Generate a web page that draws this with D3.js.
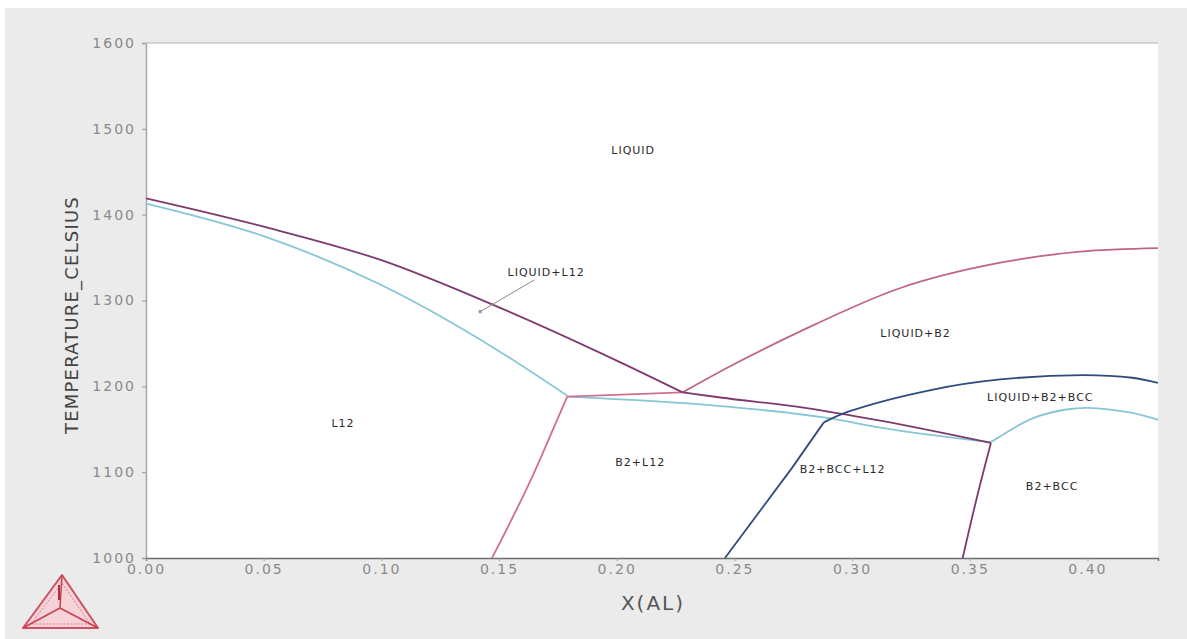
<!DOCTYPE html>
<html>
<head>
<meta charset="utf-8">
<script src="https://cdn.jsdelivr.net/npm/d3@7"></script>
<style>
  html, body { margin: 0; padding: 0; background: #ffffff; }
  svg { display: block; }
</style>
</head>
<body>
<svg id="chart" width="1187" height="639"></svg>
<script>
// ---- data (X(AL) mole fraction, temperature in Celsius) ----
const xTicks = [0.00, 0.05, 0.10, 0.15, 0.20, 0.25, 0.30, 0.35, 0.40];
const yTicks = [1000, 1100, 1200, 1300, 1400, 1500, 1600];

const liquidusL12 = [[0, 1419], [0.05, 1386], [0.1, 1347], [0.15, 1292], [0.2, 1230], [0.228, 1193]];
const solidusL12 = [[0, 1413], [0.05, 1375], [0.1, 1318], [0.15, 1241], [0.179, 1189]];
const solvusL12 = [[0.147, 1000], [0.164, 1094], [0.1747, 1161], [0.179, 1188]];
const peritectic = [[0.179, 1188], [0.228, 1193]];
const upperB2L12 = [[0.179, 1188], [0.244, 1177], [0.29, 1163], [0.312, 1152], [0.359, 1135]];
const liquidB2Lower = [[0.228, 1193], [0.244, 1187], [0.28, 1175], [0.312, 1160], [0.359, 1134]];
const liquidusB2 = [[0.228, 1193], [0.25, 1226], [0.278, 1264], [0.32, 1314], [0.363, 1344], [0.397, 1357], [0.43, 1361]];
const solvusB2Right = [[0.347, 1000], [0.353, 1070], [0.359, 1134]];
const bccBoundaryLow = [[0.246, 1000], [0.2745, 1105], [0.288, 1158]];
const bccBoundaryHigh = [[0.288, 1158], [0.299, 1171], [0.334, 1196], [0.363, 1208], [0.398, 1213], [0.419, 1210], [0.43, 1204]];
const bccLower = [[0.359, 1135], [0.377, 1163], [0.391, 1173], [0.4, 1175], [0.419, 1169], [0.43, 1161]];

const regionNames = ["LIQUID", "LIQUID+L12", "L12", "B2+L12", "LIQUID+B2", "LIQUID+B2+BCC", "B2+BCC+L12", "B2+BCC"];
const regionX = [0.207, 0.170, 0.0837, 0.210, 0.327, 0.380, 0.296, 0.385];
const regionT = [1475, 1333, 1157, 1112, 1262, 1187, 1104, 1084];
const leaderFrom = [0.165, 1324];
const leaderTo = [0.142, 1287];

// ---- layout ----
const svg = d3.select("#chart");
const W = 1187, H = 639;
const mLeft = 146, mRight = 1158, mTop = 43, mBottom = 558;

const x = d3.scaleLinear().domain([0, 0.43]).range([mLeft, mRight]);
const y = d3.scaleLinear().domain([1000, 1600]).range([mBottom, mTop]);

// background panel
svg.append("rect").attr("x", 0).attr("y", 0).attr("width", W).attr("height", H).attr("fill", "#ffffff");
svg.append("rect").attr("x", 5).attr("y", 8).attr("width", W - 5).attr("height", H - 8).attr("fill", "#ebebeb");
svg.append("rect").attr("x", mLeft).attr("y", mTop).attr("width", mRight - mLeft).attr("height", mBottom - mTop).attr("fill", "#ffffff");

// axes
const tickFont = "DejaVu Sans, sans-serif";
const yAxis = svg.append("g").attr("transform", `translate(${mLeft},0)`)
  .call(d3.axisLeft(y).tickValues(yTicks).tickFormat(d3.format("d")).tickSize(4).tickPadding(6));
const xAxis = svg.append("g").attr("transform", `translate(0,${mBottom})`)
  .call(d3.axisBottom(x).tickValues(xTicks).tickFormat(d3.format(".2f")).tickSize(3).tickPadding(3));
[yAxis, xAxis].forEach(g => {
  g.selectAll("text").attr("fill", "#8a8a8a").style("font-family", tickFont).style("font-size", "14px").style("letter-spacing", "2px");
  g.selectAll("line").attr("stroke", "#9a9a9a");
});
yAxis.select(".domain").attr("stroke", "#a8a8a8").attr("stroke-width", 1.5);
xAxis.select(".domain").attr("stroke", "#6e6e6e").attr("stroke-width", 1.5);
// top frame line
svg.append("line").attr("x1", mLeft).attr("x2", mRight).attr("y1", mTop).attr("y2", mTop)
  .attr("stroke", "#c8c8c8").attr("stroke-width", 1.5);

// axis titles
svg.append("text").attr("x", 653).attr("y", 610).attr("text-anchor", "middle")
  .style("font-family", "DejaVu Sans, sans-serif").style("font-size", "20px").style("letter-spacing", "2px").attr("fill", "#555")
  .text("X(AL)");
svg.append("text").attr("transform", "translate(78,315) rotate(-90)").attr("text-anchor", "middle")
  .style("font-family", "DejaVu Sans, sans-serif").style("font-size", "18px").style("letter-spacing", "1.2px").attr("fill", "#444")
  .text("TEMPERATURE_CELSIUS");

// phase boundaries
const purple = "#7d3a6c", pink = "#cf6f8f", cyan = "#86c6d6", blue = "#2f4c7c";
const smooth = d3.line().x(d => x(d[0])).y(d => y(d[1])).curve(d3.curveMonotoneX);
const rounded = d3.line().x(d => x(d[0])).y(d => y(d[1])).curve(d3.curveCatmullRom.alpha(0.5));
const straight = d3.line().x(d => x(d[0])).y(d => y(d[1]));
const plot = svg.append("g");
const curves = [
  [solidusL12, cyan, smooth],
  [upperB2L12, cyan, smooth],
  [bccLower, cyan, rounded],
  [solvusL12, pink, smooth],
  [peritectic, pink, straight],
  [liquidusB2, "#c0658a", smooth],
  [liquidusL12, purple, smooth],
  [liquidB2Lower, purple, smooth],
  [solvusB2Right, purple, smooth],
  [bccBoundaryLow, blue, straight],
  [bccBoundaryHigh, blue, rounded]
];
curves.forEach(([pts, col, gen]) => {
  plot.append("path").attr("d", gen(pts)).attr("fill", "none")
    .attr("stroke", col).attr("stroke-width", 1.8).attr("stroke-linejoin", "round");
});

// leader line
svg.append("line").attr("x1", x(leaderFrom[0])).attr("y1", y(leaderFrom[1]))
  .attr("x2", x(leaderTo[0])).attr("y2", y(leaderTo[1])).attr("stroke", "#8a8a8a").attr("stroke-width", 1);
svg.append("circle").attr("cx", x(leaderTo[0])).attr("cy", y(leaderTo[1])).attr("r", 1.8).attr("fill", "#9a9a9a");

// region labels
regionNames.forEach((name, i) => {
  svg.append("text").attr("x", x(regionX[i])).attr("y", y(regionT[i])).attr("dy", "0.35em")
    .attr("text-anchor", "middle").style("font-family", "DejaVu Sans, sans-serif")
    .style("font-size", "11px").style("letter-spacing", "1px").attr("fill", "#2a2a2a").text(name);
});

// logo
const logo = svg.append("g");
logo.append("path").attr("d", "M62,575 L23,628 L98,628 Z").attr("fill", "#f6d3d9").attr("stroke", "#d0505f").attr("stroke-width", 2).attr("stroke-linejoin", "round");
logo.append("path").attr("d", "M62,583 L31,624 L90,624 Z").attr("fill", "none").attr("stroke", "#e07a88").attr("stroke-width", 1).attr("stroke-dasharray", "2,1.5");
logo.append("path").attr("d", "M62,575 L60,608 M60,608 L23,628 M60,608 L98,628").attr("fill", "none").attr("stroke", "#c8404f").attr("stroke-width", 1.5);
logo.append("path").attr("d", "M59,585 L59,600").attr("stroke", "#b03040").attr("stroke-width", 2);
</script>
</body>
</html>
